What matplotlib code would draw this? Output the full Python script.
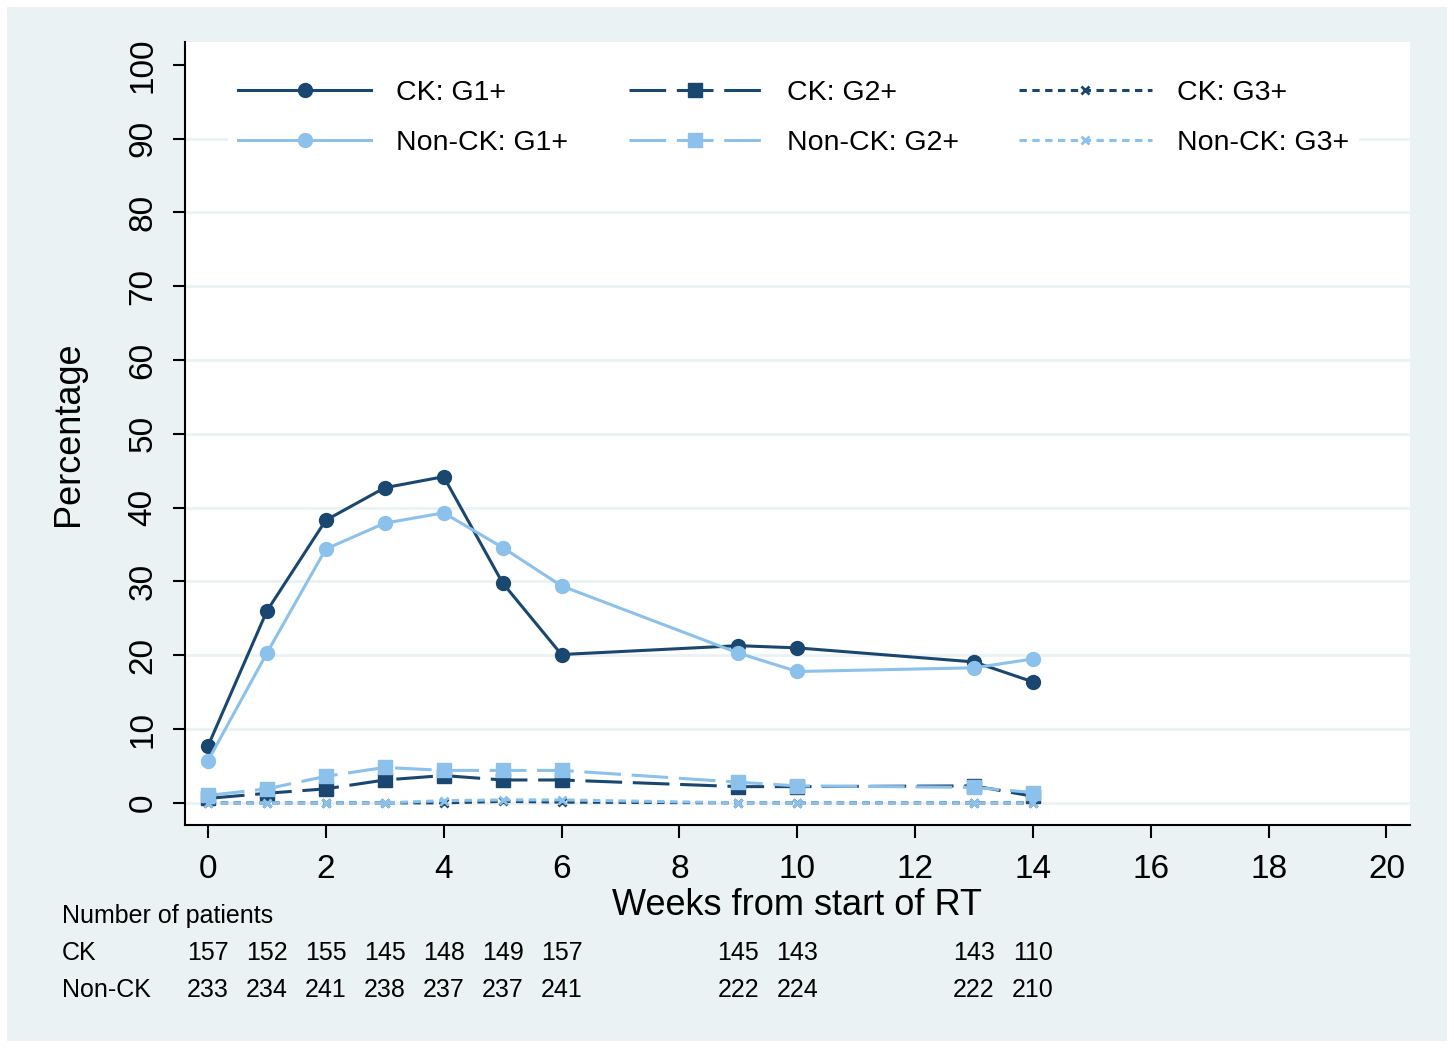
import matplotlib.pyplot as plt
from matplotlib.patches import Rectangle
from matplotlib.transforms import blended_transform_factory

plt.rcParams['font.family'] = ['Liberation Sans', 'DejaVu Sans']

# Percentage with toxicity grade by week
weeks = [0, 1, 2, 3, 4, 5, 6, 9, 10, 13, 14]
ck_g1 = [7.7, 26.0, 38.3, 42.7, 44.2, 29.8, 20.1, 21.3, 21.0, 19.1, 16.4]
nonck_g1 = [5.7, 20.3, 34.4, 37.9, 39.3, 34.6, 29.4, 20.3, 17.8, 18.3, 19.5]
ck_g2 = [0.6, 1.3, 1.9, 3.1, 3.7, 3.1, 3.1, 2.2, 2.2, 2.3, 0.9]
nonck_g2 = [1.0, 1.9, 3.6, 4.8, 4.4, 4.4, 4.4, 2.8, 2.3, 2.1, 1.4]
ck_g3 = [0, 0, 0, 0, 0, 0.2, 0.1, 0, 0, 0, 0]
nonck_g3 = [0, 0, 0, 0, 0.3, 0.4, 0.4, 0, 0, 0, 0]

# Number at risk table
n_ck = [157, 152, 155, 145, 148, 149, 157, 145, 143, 143, 110]
n_nonck = [233, 234, 241, 238, 237, 237, 241, 222, 224, 222, 210]

dark = '#1a476f'
light = '#8bc1ea'
bg = '#eaf2f3'

W, H = 1454, 1048
fig = plt.figure(figsize=(W / 100, H / 100), dpi=100, facecolor='white')
fig.patches.append(Rectangle((7 / W, 7 / H), 1440 / W, 1034 / H,
                             transform=fig.transFigure, facecolor=bg,
                             edgecolor='none', zorder=-10))

ax = fig.add_axes([185 / W, 1 - 825 / H, 1225 / W, 783 / H])
ax.set_facecolor('white')

lw = 2.2
long_dash = (0, (12, 3.5))
short_dash = (0, (2.4, 1.8))

ax.plot(weeks, ck_g1, color=dark, lw=lw, marker='o', ms=10, label='CK: G1+')
ax.plot(weeks, ck_g2, color=dark, lw=lw, ls=long_dash, marker='s', ms=10,
        label='CK: G2+')
ax.plot(weeks, ck_g3, color=dark, lw=lw, ls=short_dash, marker='x', ms=5.5,
        mew=2, label='CK: G3+')
ax.plot(weeks, nonck_g1, color=light, lw=lw, marker='o', ms=10,
        label='Non-CK: G1+')
ax.plot(weeks, nonck_g2, color=light, lw=lw, ls=long_dash, marker='s', ms=10,
        label='Non-CK: G2+')
ax.plot(weeks, nonck_g3, color=light, lw=lw, ls=short_dash, marker='x', ms=5.5,
        mew=2, label='Non-CK: G3+')

ax.set_xlim(-0.39, 20.4)
ax.set_ylim(-3.0, 103.1)
ax.set_xticks(range(0, 21, 2))
ax.set_yticks(range(0, 101, 10))
for yv in range(0, 100, 10):
    ax.axhline(yv, color=bg, lw=2, zorder=0)

for s in ['top', 'right']:
    ax.spines[s].set_visible(False)
for s in ['left', 'bottom']:
    ax.spines[s].set_linewidth(1.5)
ax.tick_params(axis='both', length=9, width=1.5, labelsize=24)
ax.tick_params(axis='x', pad=12)
ax.tick_params(axis='y', pad=10)
plt.setp(ax.get_yticklabels(), rotation=90, va='center')

ax.set_xlabel('Weeks from start of RT', fontsize=26, labelpad=2)
ax.set_ylabel('Percentage', fontsize=26, labelpad=30)

h, l = ax.get_legend_handles_labels()
order = [0, 3, 1, 4, 2, 5]
leg = ax.legend([h[i] for i in order], [l[i] for i in order], ncol=3,
                loc='upper center', bbox_to_anchor=(0.497, 0.983),
                fontsize=20.5, frameon=True, facecolor='white',
                edgecolor='none', framealpha=1, fancybox=False,
                handlelength=4.65, handletextpad=0.9, columnspacing=2.12,
                labelspacing=0.85, borderpad=0.35)

# Number of patients table under the axis
tr = blended_transform_factory(ax.transData, fig.transFigure)
fig.text(62 / W, 1 - 916 / H, 'Number of patients', fontsize=18, va='center')
fig.text(62 / W, 1 - 953 / H, 'CK', fontsize=18, va='center')
fig.text(62 / W, 1 - 990 / H, 'Non-CK', fontsize=18, va='center')
for wk, a, b in zip(weeks, n_ck, n_nonck):
    ax.text(wk, 1 - 953 / H, str(a), transform=tr, fontsize=18,
            ha='center', va='center')
    ax.text(wk, 1 - 990 / H, str(b), transform=tr, fontsize=18,
            ha='center', va='center')

fig.savefig('out.png', dpi=100, facecolor='white')
